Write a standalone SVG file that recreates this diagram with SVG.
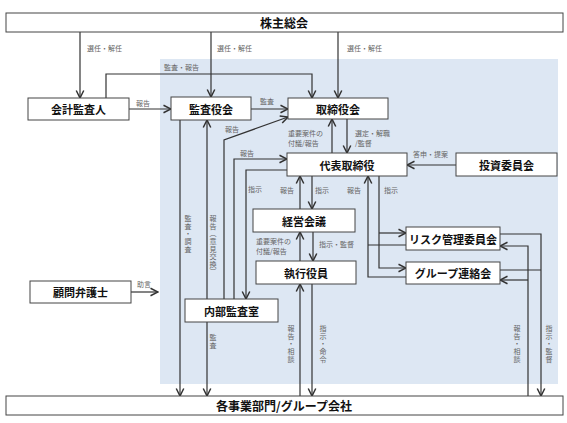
<svg xmlns="http://www.w3.org/2000/svg" width="567" height="423" viewBox="0 0 567 423">
<defs>
<marker id="ah" markerUnits="userSpaceOnUse" markerWidth="10" markerHeight="10" viewBox="0 0 8 8" refX="7" refY="4" orient="auto">
<path d="M1,1 L7,4 L1,7" fill="none" stroke="#333" stroke-width="1.2"/>
</marker>
<style>
.bx{fill:#fff;stroke:#444;stroke-width:1}
.nt{font-family:"Noto Sans CJK JP","Noto Sans",sans-serif;font-weight:bold;font-size:11px;fill:#111;text-anchor:middle;dominant-baseline:central}
.bt{font-size:12px}
.ln{fill:none;stroke:#333;stroke-width:1.2}
.ar{marker-end:url(#ah)}
.lb{font-family:"Noto Sans CJK JP","Noto Sans",sans-serif;font-size:7px;fill:#666;dominant-baseline:central}
.vl{writing-mode:vertical-rl;text-orientation:upright;letter-spacing:0.6px}
</style>
</defs>
<rect x="160" y="59" width="398" height="325" fill="#dde7f3"/>
<g id="connectors">
<path class="ln ar" d="M80,32 V98"/>
<path class="ln ar" d="M211,32 V97"/>
<path class="ln ar" d="M338,32 V98"/>
<path class="ln ar" d="M106,98 V74 H312 V98"/>
<path class="ln ar" d="M129,109 H171"/>
<path class="ln ar" d="M251,109 H288"/>
<path class="ln ar" d="M224,299 V140 L288,117"/>
<path class="ln ar" d="M234,299 V159 H287"/>
<path class="ln ar" d="M287,170 H246 V299"/>
<path class="ln ar" d="M207,299 V120"/>
<path class="ln ar" d="M180,120 V396"/>
<path class="ln ar" d="M207,322 V396"/>
<path class="ln ar" d="M332,153 V119"/>
<path class="ln ar" d="M347,119 V153"/>
<path class="ln ar" d="M456,165 H407"/>
<path class="ln ar" d="M300,209 V176"/>
<path class="ln ar" d="M312,176 V209"/>
<path class="ln ar" d="M300,261 V232"/>
<path class="ln ar" d="M313,232 V261"/>
<path class="ln ar" d="M300,396 V284"/>
<path class="ln ar" d="M312,284 V396"/>
<path class="ln ar" d="M379,176 V268 H406"/>
<path class="ln ar" d="M379,233 H406"/>
<path class="ln" d="M406,245 H368"/>
<path class="ln ar" d="M406,277 H368 V176"/>
<path class="ln ar" d="M528,396 V246 H500"/>
<path class="ln ar" d="M528,280 H500"/>
<path class="ln ar" d="M500,234 H541 V396"/>
<path class="ln" d="M500,270 H541"/>
<path class="ln ar" d="M131,292 H158"/>
</g>
<g id="labels">
<text class="lb" x="87" y="48">選任・解任</text>
<text class="lb" x="217" y="48">選任・解任</text>
<text class="lb" x="347" y="48">選任・解任</text>
<text class="lb" x="164" y="67">監査・報告</text>
<text class="lb" x="136" y="103">報告</text>
<text class="lb" x="260" y="101">監査</text>
<text class="lb" x="225" y="129">報告</text>
<text class="lb" x="288" y="133">重要案件の</text>
<text class="lb" x="288" y="143">付議/報告</text>
<text class="lb" x="355" y="133">選定・解職</text>
<text class="lb" x="355" y="143">/監督</text>
<text class="lb" x="240" y="153">報告</text>
<text class="lb" x="413" y="154">答申・提案</text>
<text class="lb" x="248" y="189">指示</text>
<text class="lb" x="280" y="190">報告</text>
<text class="lb" x="315" y="190">指示</text>
<text class="lb" x="347" y="190">報告</text>
<text class="lb" x="384" y="190">指示</text>
<text class="lb" x="256" y="241">重要案件の</text>
<text class="lb" x="256" y="251">付議/報告</text>
<text class="lb" x="319" y="244">指示・監督</text>
<text class="lb" x="137" y="284">助言</text>
<text class="lb vl" x="188" y="215">監査・調査</text>
<text class="lb vl" x="213" y="215">報告︵意見交換︶</text>
<text class="lb vl" x="213" y="334">監査</text>
<text class="lb vl" x="291" y="325">報告・相談</text>
<text class="lb vl" x="323" y="325">指示・命令</text>
<text class="lb vl" x="517" y="325">報告・相談</text>
<text class="lb vl" x="549" y="325">指示・監督</text>
</g>
<g id="n-kabunushi"><rect class="bx" x="6" y="13" width="557" height="19"/><text class="nt bt" x="284" y="22.5">株主総会</text></g>
<g id="n-kaikei"><rect class="bx" x="28" y="98" width="101" height="22"/><text class="nt" x="78.5" y="109">会計監査人</text></g>
<g id="n-kansayaku"><rect class="bx" x="171" y="97" width="80" height="23"/><text class="nt" x="211" y="108.5">監査役会</text></g>
<g id="n-torishimari"><rect class="bx" x="288" y="98" width="100" height="21"/><text class="nt" x="338" y="108.5">取締役会</text></g>
<g id="n-daihyo"><rect class="bx" x="287" y="153" width="120" height="23"/><text class="nt" x="347" y="164.5">代表取締役</text></g>
<g id="n-toshi"><rect class="bx" x="456" y="153" width="101" height="23"/><text class="nt" x="506.5" y="164.5">投資委員会</text></g>
<g id="n-keiei"><rect class="bx" x="253" y="209" width="102" height="23"/><text class="nt" x="304" y="220.5">経営会議</text></g>
<g id="n-shikko"><rect class="bx" x="256" y="261" width="100" height="23"/><text class="nt" x="306" y="272.5">執行役員</text></g>
<g id="n-risk"><rect class="bx" x="406" y="227" width="94" height="23"/><text class="nt" x="453" y="238.5">リスク管理委員会</text></g>
<g id="n-group"><rect class="bx" x="406" y="262" width="94" height="22"/><text class="nt" x="453" y="273">グループ連絡会</text></g>
<g id="n-naibu"><rect class="bx" x="185" y="299" width="93" height="23"/><text class="nt" x="231.5" y="310.5">内部監査室</text></g>
<g id="n-komon"><rect class="bx" x="30" y="281" width="101" height="22"/><text class="nt" x="80.5" y="292">顧問弁護士</text></g>
<g id="n-jigyo"><rect class="bx" x="6" y="396" width="557" height="19"/><text class="nt bt" x="284" y="405.5">各事業部門/グループ会社</text></g>
</svg>
